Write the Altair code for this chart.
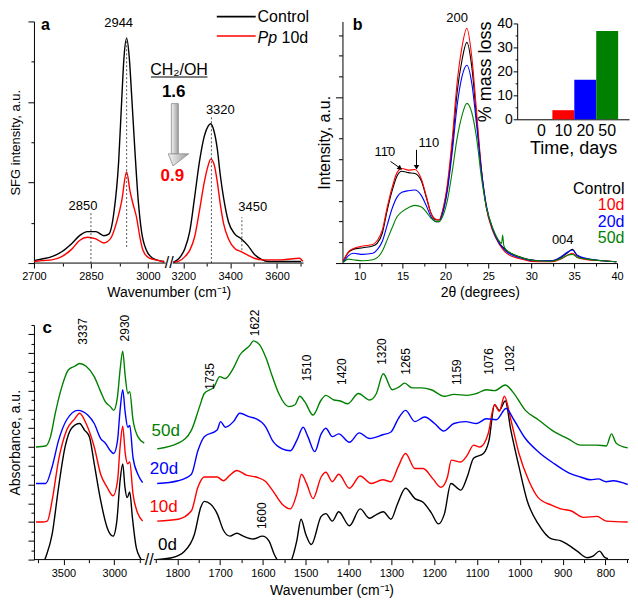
import altair as alt
import pandas as pd

FONT = "Liberation Sans"
BLACK, RED, BLUE, GREEN = "#000000", "#ff0000", "#0000ff", "#008000"

# ---------------- panel a : SFG spectra ----------------
A_CTRL_LEFT = [(2700,0.03),(2721,0.05),(2747,0.08),(2773,0.14),(2799,0.24),(2820,0.34),(2841,0.39),(2863,0.39),
               (2884,0.34),(2897,0.36),(2910,0.61),(2923,1.26),(2931,2.02),(2937,2.55),(2944,2.79),(2951,2.55),
               (2957,2.10),(2966,1.38),(2974,0.81),(2983,0.40),(2996,0.16),(3013,0.06),(3030,0.03),(3043,0.02)]
A_CTRL_RIGHT = [(3158,0.01),(3179,0.05),(3207,0.18),(3228,0.40),(3248,0.81),(3269,1.26),(3290,1.58),(3306,1.70),
                (3317,1.73),(3331,1.64),(3345,1.42),(3358,1.09),(3372,0.81),(3393,0.51),(3420,0.36),(3448,0.30),
                (3475,0.22),(3503,0.11),(3531,0.05),(3565,0.02),(3634,0.02),(3703,0.02)]
A_PP_LEFT = [(2700,0.02),(2721,0.03),(2747,0.04),(2773,0.08),(2799,0.17),(2820,0.28),(2841,0.32),(2863,0.30),
             (2884,0.25),(2901,0.30),(2919,0.53),(2931,0.77),(2944,1.13),(2953,0.89),(2961,0.73),(2970,0.57),
             (2979,0.32),(2987,0.16),(3004,0.06),(3030,0.03),(3043,0.01)]
A_PP_RIGHT = [(3158,0.01),(3179,0.02),(3207,0.08),(3228,0.16),(3248,0.32),(3269,0.65),(3290,1.01),(3306,1.21),
              (3317,1.29),(3331,1.23),(3345,1.01),(3358,0.73),(3372,0.49),(3393,0.30),(3420,0.18),(3448,0.14),
              (3475,0.10),(3503,0.06),(3537,0.04),(3620,0.04),(3696,0.06),(3710,0.02)]
A_SERIES = ["Control", "Pp 10d"]
A_XTICKS = [2700, 2775, 2850, 2925, 3000, 3200, 3300, 3400, 3500, 3600, 3700]
A_XLABELS = [2700, 2850, 3000, 3200, 3400, 3600]
A_YTICKS = [0, 0.5, 1, 1.5, 2, 2.5, 3]
A_PEAKS = [2850, 2944, 3320, 3450]
A_PEAK_LO = [0, 0.2, 0, 0.16]
A_PEAK_HI = [0.63, 2.83, 1.82, 0.57]
A_LAB_T = ["2850", "2944", "3320", "3450"]
A_LAB_X = [2829, 2923, 3358, 3496]
A_LAB_Y = [0.71, 2.98, 1.90, 0.70]

# ---------------- panel b : XRD ----------------
B_X = [8.11, 8.67, 9.24, 10.38, 11.52, 12.08, 12.65, 13.22, 13.79, 14.36, 14.92, 15.68, 16.44, 17.20, 17.76,
       18.33, 18.90, 19.28, 19.66, 20.23, 20.80, 21.36, 21.93, 22.50, 23.07, 23.64, 24.20, 24.77, 25.53, 26.29,
       27.04, 28.56, 30.83, 32.35, 33.48, 34.24, 34.80, 35.37, 36.51, 38.41, 39.92]
B_CTRL = [0.11, 0.50, 0.66, 0.74, 0.82, 0.97, 1.45, 2.55, 3.49, 4.20, 4.43, 4.36, 4.32, 3.96, 3.18, 2.39, 2.08,
          2.08, 2.47, 3.65, 5.69, 8.21, 9.78, 10.64, 9.47, 6.95, 4.43, 2.70, 1.60, 0.97, 0.63, 0.31, 0.11, 0.11,
          0.27, 0.50, 0.66, 0.35, 0.19, 0.11, 0.06]
B_10D = [0.11, 0.53, 0.69, 0.82, 0.90, 1.10, 1.60, 2.70, 3.65, 4.36, 4.56, 4.48, 4.51, 4.04, 3.25, 2.39, 2.11,
         2.08, 2.52, 3.81, 6.01, 8.68, 10.41, 11.32, 9.94, 7.26, 4.51, 2.67, 1.53, 0.90, 0.50, 0.22, 0.06, 0.06,
         0.19, 0.38, 0.47, 0.27, 0.16, 0.11, 0.06]
B_20D = [0.06, 0.35, 0.47, 0.42, 0.47, 0.66, 1.05, 1.84, 2.63, 3.18, 3.41, 3.49, 3.52, 3.25, 2.78, 2.23, 2.00,
         2.00, 2.36, 3.49, 5.38, 7.58, 8.99, 9.54, 8.68, 6.64, 4.43, 2.78, 1.60, 0.94, 0.58, 0.27, 0.11, 0.11,
         0.31, 0.53, 0.63, 0.38, 0.22, 0.11, 0.06]
B_50D_X = [8.11, 8.67, 9.24, 10.38, 11.52, 12.08, 12.65, 13.22, 13.79, 14.36, 14.92, 15.68, 16.44, 17.20, 17.76,
           18.33, 18.90, 19.28, 19.66, 20.23, 20.80, 21.36, 21.93, 22.50, 23.07, 23.64, 24.20, 24.77, 25.53, 26.29,
           26.55, 26.67, 26.80, 27.04, 28.56, 30.83, 32.35, 33.48, 34.24, 34.80, 35.37, 36.51, 38.41, 39.92]
B_50D = [0.03, 0.19, 0.16, 0.11, 0.16, 0.27, 0.58, 1.13, 1.70, 2.23, 2.47, 2.67, 2.78, 2.70, 2.47, 2.16, 2.00,
         2.00, 2.23, 3.02, 4.43, 6.01, 7.11, 7.70, 7.26, 6.01, 4.12, 2.70, 1.68, 1.05, 0.95, 1.35, 0.85, 0.66,
         0.31, 0.11, 0.09, 0.22, 0.38, 0.42, 0.27, 0.19, 0.11, 0.06]
B_SERIES = ["Control", "10d", "20d", "50d"]
B_XTICKS = [10, 12.5, 15, 17.5, 20, 22.5, 25, 27.5, 30, 32.5, 35, 37.5, 40]
B_YTICKS = list(range(0, 12))
B_LAB_T = ["200", "11\u03040", "110", "004"]
B_LAB_X = [21.36, 12.95, 18.07, 33.67]
B_LAB_Y = [11.83, 5.36, 5.79, 1.13]
B_LEG_Y = [3.57, 2.78, 2.00, 1.21]
MASS_DAYS = ["0", "10", "20", "50"]
MASS_LOSS = [0, 3.8, 16.5, 36.9]

# ---------------- panel c : FTIR ----------------
C0_LEFT = [(3700,-0.6),(3682,0.0),(3611,2.7),(3548,7.7),(3484,12.0),(3420,14.0),(3340,14.5),(3293,13.8),
           (3245,13.1),(3197,10.2),(3134,6.3),(3070,3.4),(3012,2.5),(2975,4.1),(2943,8.4),(2917,10.2),
           (2895,7.7),(2873,6.6),(2848,7.2),(2822,4.5),(2784,1.3),(2736,0.0),(2715,-0.5)]
C0_RIGHT = [(1850,0.0),(1813,0.2),(1783,0.9),(1760,2.7),(1745,5.6),(1737,6.2),(1722,5.9),(1707,4.9),(1692,3.1),
            (1677,2.5),(1661,2.8),(1646,2.5),(1623,2.2),(1601,2.5),(1586,2.0),(1574,0.6),(1567,0.0),(1552,-1.0),
            (1533,0.0),(1521,2.0),(1511,4.3),(1500,2.7),(1487,1.6),(1464,4.6),(1453,4.9),(1438,4.1),(1423,5.1),
            (1398,3.6),(1373,5.4),(1351,4.4),(1335,4.8),(1319,5.1),(1301,4.3),(1286,5.9),(1267,7.6),(1245,6.5),
            (1226,6.1),(1207,5.0),(1190,3.8),(1176,4.9),(1161,8.1),(1138,7.4),(1123,8.8),(1108,10.8),(1085,11.3),
            (1072,12.7),(1059,16.5),(1048,15.9),(1034,16.9),(1021,13.8),(1002,9.9),(983,6.3),(957,3.8),(926,2.2),
            (904,2.0),(888,1.6),(866,0.9),(843,0.2),(828,0.4),(814,0.9),(801,0.2),(794,0.1)]
C1_LEFT = [(3770,4.0),(3707,4.0),(3659,4.1),(3611,6.3),(3548,10.6),(3468,13.8),(3389,15.0),(3341,15.6),
           (3277,14.5),(3197,12.0),(3134,9.1),(3070,7.7),(3012,6.8),(2968,8.4),(2943,12.0),(2917,14.2),
           (2892,11.3),(2867,10.2),(2848,10.4),(2816,7.0),(2768,4.9),(2721,4.1)]
C1_RIGHT = [(1847,4.1),(1798,4.3),(1767,5.2),(1752,7.7),(1737,8.8),(1707,8.8),(1692,8.4),(1677,9.0),(1661,9.5),
            (1639,9.0),(1616,8.8),(1593,8.3),(1578,7.4),(1555,5.9),(1536,5.4),(1521,7.0),(1510,9.1),(1498,8.1),
            (1483,6.5),(1464,8.8),(1453,9.3),(1438,8.3),(1423,9.1),(1398,7.6),(1373,8.9),(1347,8.1),(1320,8.5),
            (1301,8.3),(1284,9.9),(1267,11.3),(1245,9.7),(1226,9.7),(1203,8.6),(1184,7.7),(1169,8.8),(1160,10.6),
            (1138,10.4),(1123,11.1),(1108,12.2),(1093,12.0),(1074,13.4),(1059,16.5),(1048,15.8),(1036,17.4),
            (1021,14.9),(1002,11.3),(979,8.4),(957,6.6),(926,5.8),(904,5.4),(881,5.2),(851,4.5),(820,4.6),
            (798,4.1),(748,4.0)]
C2_LEFT = [(3770,8.1),(3675,8.1),(3611,9.9),(3548,12.7),(3468,14.9),(3357,15.9),(3261,15.4),(3197,14.5),
           (3134,12.9),(3087,12.4),(3038,11.6),(3006,11.3),(2968,12.7),(2943,15.9),(2917,18.1),(2892,15.6),
           (2867,14.1),(2848,14.3),(2816,10.9),(2768,9.1),(2721,8.2)]
C2_RIGHT = [(1847,8.1),(1798,8.4),(1767,9.1),(1752,11.6),(1737,13.1),(1707,13.8),(1699,14.7),(1688,14.1),
            (1669,14.7),(1654,15.6),(1631,15.2),(1616,15.0),(1593,14.1),(1578,12.7),(1555,11.8),(1536,11.6),
            (1521,12.7),(1506,14.1),(1495,13.1),(1479,11.5),(1464,13.4),(1453,14.0),(1438,13.1),(1423,13.4),
            (1398,12.5),(1375,13.5),(1351,12.9),(1320,13.3),(1301,13.6),(1284,15.0),(1267,15.9),(1245,14.7),
            (1222,15.2),(1199,14.5),(1178,13.7),(1154,14.5),(1127,14.7),(1101,14.5),(1078,15.0),(1055,14.9),
            (1032,16.1),(1014,14.9),(987,12.9),(957,11.5),(919,10.2),(888,9.3),(858,8.8),(835,8.5),(817,8.6),
            (798,8.3),(782,8.4),(748,8.0)]
C3_LEFT = [(3770,12.0),(3675,12.1),(3627,13.1),(3580,15.6),(3516,18.4),(3452,20.2),(3389,20.6),(3341,20.9),
           (3277,20.6),(3197,19.5),(3134,17.9),(3087,16.8),(3038,16.3),(3006,15.9),(2968,17.4),(2943,20.2),
           (2917,22.2),(2892,19.5),(2867,17.7),(2848,17.9),(2816,14.9),(2768,13.1),(2705,12.4)]
C3_RIGHT = [(1847,11.8),(1798,12.4),(1767,13.8),(1748,16.3),(1737,17.7),(1714,18.4),(1701,19.5),(1688,19.3),
            (1669,20.4),(1654,21.8),(1631,22.8),(1622,23.3),(1608,22.9),(1593,21.5),(1578,19.5),(1563,17.7),
            (1540,16.3),(1525,16.5),(1514,17.4),(1502,16.8),(1483,15.4),(1464,17.0),(1453,17.5),(1434,17.0),
            (1419,16.9),(1402,16.6),(1377,17.7),(1351,17.0),(1335,17.7),(1319,19.8),(1298,18.1),(1282,18.4),
            (1269,18.8),(1252,18.3),(1229,18.3),(1207,18.1),(1176,17.4),(1154,17.6),(1123,17.5),(1101,17.7),
            (1078,18.1),(1059,18.0),(1034,18.6),(1017,17.9),(987,15.9),(957,14.9),(919,13.6),(888,12.9),
            (858,12.2),(820,12.2),(798,12.1),(786,13.4),(775,12.4),(748,11.9)]
C_SERIES = ["0d", "10d", "20d", "50d"]
C_XTICKS = [3750, 3500, 3250, 3000, 2750] + list(range(1850, 700, -50))
C_XLABELS = [3500, 3000] + list(range(1800, 700, -100))
C_YTICKS = list(range(0, 26))
C_PEAK_T = ["3337", "2930", "1735", "1622", "1510", "1600", "1420", "1320", "1265", "1159", "1076", "1032"]
C_PEAK_X = [3309, 2895, 1724, 1618, 1498, 1602, 1415, 1322, 1267, 1146, 1072, 1023]
C_PEAK_Y = [22.9, 23.25, 18.1, 23.8, 19.0, 3.25, 18.6, 20.75, 19.7, 18.6, 19.7, 20.0]
C_SER_LAB = ["50d", "20d", "10d", "0d"]
C_SER_X = [1794, 1798, 1799, 1801]
C_SER_Y = [13.7, 9.7, 5.6, 1.6]

# ---------------- layout sizes ----------------
H_TOP, W_A, W_B = 242, 270, 275
H_C, W_C = 235, 596
INSET_BOTTOM = 98


def pairs_df(pairs, series, seg):
    return pd.DataFrame({"x": [p[0] for p in pairs], "y": [p[1] for p in pairs],
                         "series": series, "seg": seg})


def in_list(vals):
    return "indexof([" + ",".join(str(v) for v in vals) + "], datum.value) >= 0"


GRAD = alt.Gradient(gradient="linear", x1=0, x2=1, y1=0, y2=0,
                    stops=[alt.GradientStop(color="#f4f4f4", offset=0),
                           alt.GradientStop(color="#9c9c9c", offset=1)])

# ================= panel a =================
a_df = pd.concat([pairs_df(A_CTRL_LEFT, "Control", "L"), pairs_df(A_CTRL_RIGHT, "Control", "R"),
                  pairs_df(A_PP_LEFT, "Pp 10d", "L"), pairs_df(A_PP_RIGHT, "Pp 10d", "R")], ignore_index=True)

a_x = alt.X("x:Q", scale=alt.Scale(domain=[2700, 3047, 3155, 3713], range=[0, 132, 139, W_A], nice=False, zero=False),
            axis=alt.Axis(values=A_XTICKS, format="d", labelExpr=in_list(A_XLABELS) + " ? datum.label : ''",
                          domain=False, tickSize={"condition": {"test": in_list(A_XLABELS), "value": 5}, "value": 3},
                          labelFlush=False, labelOverlap=False, labelFontSize=11, labelPadding=2,
                          title="Wavenumber (cm\u207b\u00b9)", titleFontSize=14, titlePadding=4))
a_y = alt.Y("y:Q", scale=alt.Scale(domain=[0, 3], nice=False, zero=False),
            axis=alt.Axis(values=A_YTICKS, labels=False,
                          tickSize={"condition": {"test": "datum.value % 1 == 0", "value": 6}, "value": 3},
                          title="SFG intensity, a.u.", titleFontSize=13, titlePadding=5))
a_color = alt.Color("series:N", scale=alt.Scale(domain=A_SERIES, range=[BLACK, RED]), legend=None)

a_lines = alt.Chart(a_df).mark_line(strokeWidth=1.4, interpolate="monotone").encode(
    x=a_x, y=a_y, color=a_color, detail="seg:N")
a_dash = alt.Chart(pd.DataFrame({"x": A_PEAKS, "y": A_PEAK_LO, "y2": A_PEAK_HI})).mark_rule(
    strokeDash=[2, 2], color="#444444", strokeWidth=0.9).encode(x=a_x, y=a_y, y2="y2:Q")
a_plab = alt.Chart(pd.DataFrame({"x": A_LAB_X, "y": A_LAB_Y, "t": A_LAB_T})).mark_text(
    fontSize=13, color=BLACK).encode(x=a_x, y=a_y, text="t:N")
a_axis = alt.Chart(pd.DataFrame({"x": [2700, 3155], "x2": [3047, 3713], "y": [0, 0]})).mark_rule(
    color=BLACK, strokeWidth=1).encode(x=a_x, x2="x2:Q", y=a_y)
a_break = alt.Chart(pd.DataFrame({"x": [3101], "y": [0], "t": ["//"]})).mark_text(
    fontSize=16, color=BLACK).encode(x=a_x, y=a_y, text="t:N")
a_tag = alt.Chart(pd.DataFrame({"x": [2730], "y": [2.96], "t": ["a"]})).mark_text(
    fontSize=16, fontWeight="bold", color=BLACK).encode(x=a_x, y=a_y, text="t:N")
a_leg_line = alt.Chart(pd.DataFrame({"x": [3343, 3343], "x2": [3509, 3509], "y": [3.06, 2.82],
                                     "series": A_SERIES})).mark_rule(strokeWidth=1.6).encode(
    x=a_x, x2="x2:Q", y=a_y, color=a_color)
a_leg_t1 = alt.Chart(pd.DataFrame({"x": [3517], "y": [3.06], "t": ["Control"]})).mark_text(
    fontSize=16, align="left", baseline="middle", color=BLACK).encode(x=a_x, y=a_y, text="t:N")
a_leg_t2 = alt.Chart(pd.DataFrame({"x": [3517], "y": [2.80], "t": ["Pp"]})).mark_text(
    fontSize=16, fontStyle="italic", align="left", baseline="middle", color=BLACK).encode(x=a_x, y=a_y, text="t:N")
a_leg_t3 = alt.Chart(pd.DataFrame({"x": [3517], "y": [2.80], "t": ["10d"]})).mark_text(
    fontSize=16, align="left", baseline="middle", dx=24, color=BLACK).encode(x=a_x, y=a_y, text="t:N")
a_ratio = alt.Chart(pd.DataFrame({"x": [3182], "y": [2.40], "t": ["CH\u2082/OH"]})).mark_text(
    fontSize=16, color=BLACK).encode(x=a_x, y=a_y, text="t:N")
a_under = alt.Chart(pd.DataFrame({"x": [3008], "x2": [3303], "y": [2.31]})).mark_rule(
    color=BLACK, strokeWidth=1.2).encode(x=a_x, x2="x2:Q", y=a_y)
a_v1 = alt.Chart(pd.DataFrame({"x": [3159], "y": [2.13], "t": ["1.6"]})).mark_text(
    fontSize=17, fontWeight="bold", color=BLACK).encode(x=a_x, y=a_y, text="t:N")
a_v2 = alt.Chart(pd.DataFrame({"x": [3148], "y": [1.085], "t": ["0.9"]})).mark_text(
    fontSize=17, fontWeight="bold", color=RED).encode(x=a_x, y=a_y, text="t:N")
a_shaft = alt.Chart(pd.DataFrame({"x": [3134], "x2": [3179], "y": [1.98], "y2": [1.356]})).mark_rect(
    fill=GRAD, stroke="#8a8a8a", strokeWidth=0.8).encode(x=a_x, x2="x2:Q", y=a_y, y2="y2:Q")
a_head = alt.Chart(pd.DataFrame({"x": [3086, 3156, 3223], "y": [1.356, 1.356, 1.356],
                                 "y2": [1.356, 1.206, 1.356]})).mark_area(
    fill=GRAD, stroke="#8a8a8a", strokeWidth=0.8, interpolate="linear").encode(x=a_x, y=a_y, y2="y2:Q")

panel_a = alt.layer(a_lines, a_dash, a_plab, a_axis, a_break, a_tag, a_leg_line, a_leg_t1, a_leg_t2,
                    a_leg_t3, a_ratio, a_under, a_shaft, a_head, a_v1, a_v2).properties(width=W_A, height=H_TOP)

# ================= panel b =================
b_df = pd.concat([
    pd.DataFrame({"x": B_X, "y": B_CTRL, "series": "Control"}),
    pd.DataFrame({"x": B_X, "y": B_10D, "series": "10d"}),
    pd.DataFrame({"x": B_X, "y": B_20D, "series": "20d"}),
    pd.DataFrame({"x": B_50D_X, "y": B_50D, "series": "50d"}),
], ignore_index=True)

b_x = alt.X("x:Q", scale=alt.Scale(domain=[8, 40], nice=False, zero=False),
            axis=alt.Axis(values=B_XTICKS, labelExpr="datum.value % 5 == 0 ? datum.label : ''",
                          tickSize={"condition": {"test": "datum.value % 5 == 0", "value": 5}, "value": 3},
                          labelFlush=False, labelOverlap=False, labelFontSize=11, labelPadding=2,
                          title="2\u03b8 (degrees)", titleFontSize=14, titlePadding=4))
b_y = alt.Y("y:Q", scale=alt.Scale(domain=[0, 11.65], nice=False, zero=False),
            axis=alt.Axis(values=B_YTICKS, labels=False,
                          tickSize={"condition": {"test": "datum.value % 4 == 0", "value": 7}, "value": 4},
                          title="Intensity, a.u.", titleFontSize=16, titlePadding=2))
b_color = alt.Color("series:N", scale=alt.Scale(domain=B_SERIES, range=[BLACK, RED, BLUE, GREEN]), legend=None)

b_lines = alt.Chart(b_df).mark_line(strokeWidth=1.1, interpolate="monotone").encode(x=b_x, y=b_y, color=b_color)
b_plab = alt.Chart(pd.DataFrame({"x": B_LAB_X, "y": B_LAB_Y, "t": B_LAB_T})).mark_text(
    fontSize=13, color=BLACK).encode(x=b_x, y=b_y, text="t:N")
b_tag = alt.Chart(pd.DataFrame({"x": [9.77], "y": [11.46], "t": ["b"]})).mark_text(
    fontSize=16, fontWeight="bold", color=BLACK).encode(x=b_x, y=b_y, text="t:N")
b_leg = alt.Chart(pd.DataFrame({"x": [40.87] * 4, "y": B_LEG_Y, "series": B_SERIES})).mark_text(
    fontSize=16, align="right", baseline="middle").encode(x=b_x, y=b_y, text="series:N", color=b_color)
b_arrow = alt.Chart(pd.DataFrame({"x": [13.6, 16.63], "y": [4.9, 5.46], "x2": [14.65, 16.63],
                                  "y2": [4.6, 4.65]})).mark_rule(color=BLACK, strokeWidth=1).encode(
    x=b_x, y=b_y, x2="x2:Q", y2="y2:Q")
b_head1 = alt.Chart(pd.DataFrame({"x": [14.72], "y": [4.57]})).mark_point(
    shape="triangle-down", angle=307, filled=True, size=30, color=BLACK, opacity=1).encode(x=b_x, y=b_y)
b_head2 = alt.Chart(pd.DataFrame({"x": [16.63], "y": [4.62]})).mark_point(
    shape="triangle-down", filled=True, size=30, color=BLACK, opacity=1).encode(x=b_x, y=b_y)

b_main = alt.layer(b_lines, b_plab, b_tag, b_leg, b_arrow, b_head1, b_head2)

inset = alt.Chart(pd.DataFrame({"day": MASS_DAYS, "loss": MASS_LOSS})).mark_bar().encode(
    x=alt.X("day:N", sort=MASS_DAYS,
            scale=alt.Scale(domain=MASS_DAYS, range=[175, 287], paddingInner=0, paddingOuter=0.55, align=0.55),
            axis=alt.Axis(orient="bottom", offset=-(H_TOP - INSET_BOTTOM), ticks=False, labelAngle=0,
                          labelFontSize=16, labelPadding=3, title="Time, days", titleFontSize=18, titlePadding=1)),
    y=alt.Y("loss:Q", scale=alt.Scale(domain=[0, 40], range=[INSET_BOTTOM, 2], nice=False, zero=False),
            axis=alt.Axis(orient="left", offset=-175, values=[0, 5, 10, 15, 20, 25, 30, 35, 40],
                          labelExpr="datum.value % 10 == 0 ? datum.label : ''",
                          tickSize={"condition": {"test": "datum.value % 10 == 0", "value": 4}, "value": 2},
                          labelFontSize=14, labelPadding=1, labelOverlap=False, labelFlush=False,
                          title="% mass loss", titleFontSize=18, titlePadding=2)),
    color=alt.Color("day:N", scale=alt.Scale(domain=MASS_DAYS, range=[BLACK, RED, BLUE, GREEN]), legend=None),
)

panel_b = alt.layer(b_main, inset).resolve_scale(x="independent", y="independent", color="independent").properties(
    width=W_B, height=H_TOP)

# ================= panel c =================
c_df = pd.concat([
    pairs_df(C0_LEFT, "0d", "L"), pairs_df(C0_RIGHT, "0d", "R"),
    pairs_df(C1_LEFT, "10d", "L"), pairs_df(C1_RIGHT, "10d", "R"),
    pairs_df(C2_LEFT, "20d", "L"), pairs_df(C2_RIGHT, "20d", "R"),
    pairs_df(C3_LEFT, "50d", "L"), pairs_df(C3_RIGHT, "50d", "R"),
], ignore_index=True)

c_x = alt.X("x:Q", scale=alt.Scale(domain=[3790, 2700, 1855, 745], range=[0, 111, 120, W_C], nice=False, zero=False),
            axis=alt.Axis(values=C_XTICKS, format="d", labelExpr=in_list(C_XLABELS) + " ? datum.label : ''",
                          domain=False, tickSize={"condition": {"test": in_list(C_XLABELS), "value": 5}, "value": 3},
                          labelFlush=False, labelOverlap=False, labelFontSize=11, labelPadding=3,
                          title="Wavenumber (cm\u207b\u00b9)", titleFontSize=14, titlePadding=5))
c_y = alt.Y("y:Q", scale=alt.Scale(domain=[0, 25], nice=False, zero=False),
            axis=alt.Axis(values=C_YTICKS, labels=False,
                          tickSize={"condition": {"test": "datum.value % 2 == 0", "value": 6}, "value": 3},
                          title="Absorbance, a.u.", titleFontSize=14, titlePadding=5))
c_color = alt.Color("cser:N", scale=alt.Scale(domain=C_SERIES, range=[BLACK, RED, BLUE, GREEN]), legend=None)

c_df = c_df.rename(columns={"series": "cser"})
c_lines = alt.Chart(c_df).mark_line(strokeWidth=1.4, interpolate="monotone", clip=True).encode(
    x=c_x, y=c_y, color=c_color, detail="seg:N")
c_peaks = alt.Chart(pd.DataFrame({"x": C_PEAK_X, "y": C_PEAK_Y, "t": C_PEAK_T})).mark_text(
    fontSize=12, angle=270, align="left", baseline="middle", color=BLACK).encode(x=c_x, y=c_y, text="t:N")
c_ser = alt.Chart(pd.DataFrame({"x": C_SER_X, "y": C_SER_Y, "cser": C_SER_LAB})).mark_text(
    fontSize=17, align="right", baseline="middle").encode(x=c_x, y=c_y, text="cser:N", color=c_color)
c_tag = alt.Chart(pd.DataFrame({"x": [3659], "y": [24.7], "t": ["c"]})).mark_text(
    fontSize=17, fontWeight="bold", color=BLACK).encode(x=c_x, y=c_y, text="t:N")
c_axis = alt.Chart(pd.DataFrame({"x": [3790, 1855], "x2": [2700, 745], "y": [0, 0]})).mark_rule(
    color=BLACK, strokeWidth=1).encode(x=c_x, x2="x2:Q", y=c_y)
c_break = alt.Chart(pd.DataFrame({"x": [2278], "y": [0], "t": ["//"]})).mark_text(
    fontSize=16, color=BLACK).encode(x=c_x, y=c_y, text="t:N")

panel_c = alt.layer(c_lines, c_peaks, c_ser, c_tag, c_axis, c_break).properties(width=W_C, height=H_C)

# ================= assemble =================
top = alt.hconcat(panel_a, panel_b, spacing=39, bounds="flush").resolve_scale(color="independent")
chart = alt.vconcat(top, panel_c, spacing=10).resolve_scale(color="independent").properties(padding=0)
chart = chart.configure(font=FONT).configure_view(stroke=None).configure_axis(
    domainColor=BLACK, tickColor=BLACK, labelColor=BLACK, titleColor=BLACK, grid=False,
    labelFont=FONT, titleFont=FONT, titleFontWeight="normal", domainWidth=1, tickWidth=1
).configure_text(font=FONT)

chart.save("out.html", embed_options={"renderer": "svg", "actions": False})
